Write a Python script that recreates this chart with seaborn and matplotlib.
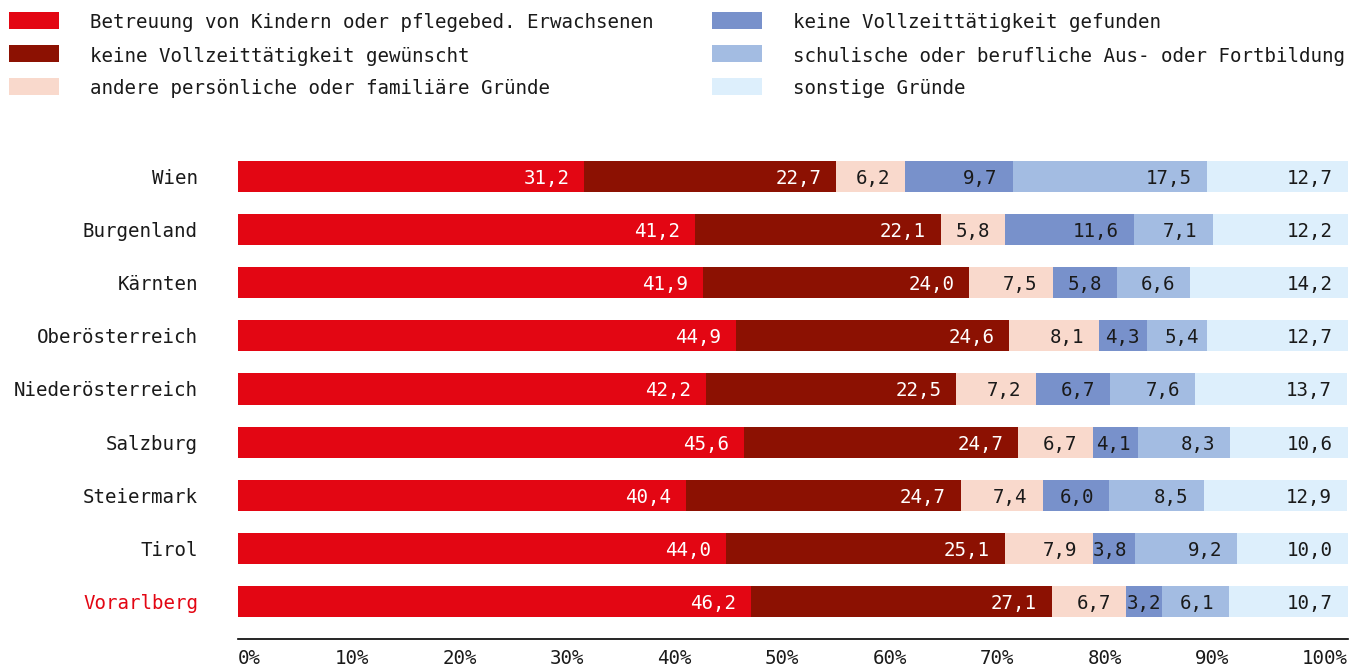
import numpy as np
import pandas as pd
import matplotlib
matplotlib.use("Agg")
import matplotlib.pyplot as plt
import matplotlib.transforms as mtransforms
from matplotlib.patches import Rectangle
import seaborn as sns

# Daten
regions = ["Wien", "Burgenland", "Kärnten", "Oberösterreich", "Niederösterreich",
           "Salzburg", "Steiermark", "Tirol", "Vorarlberg"]

betreuung = [31.2, 41.2, 41.9, 44.9, 42.2, 45.6, 40.4, 44.0, 46.2]
nicht_gewuenscht = [22.7, 22.1, 24.0, 24.6, 22.5, 24.7, 24.7, 25.1, 27.1]
persoenlich = [6.2, 5.8, 7.5, 8.1, 7.2, 6.7, 7.4, 7.9, 6.7]
nicht_gefunden = [9.7, 11.6, 5.8, 4.3, 6.7, 4.1, 6.0, 3.8, 3.2]
ausbildung = [17.5, 7.1, 6.6, 5.4, 7.6, 8.3, 8.5, 9.2, 6.1]
sonstige = [12.7, 12.2, 14.2, 12.7, 13.7, 10.6, 12.9, 10.0, 10.7]

categories = ["Betreuung von Kindern oder pflegebed. Erwachsenen",
              "keine Vollzeittätigkeit gewünscht",
              "andere persönliche oder familiäre Gründe",
              "keine Vollzeittätigkeit gefunden",
              "schulische oder berufliche Aus- oder Fortbildung",
              "sonstige Gründe"]
colors = ["#E30613", "#8C1102", "#F9D9CC", "#7891CB", "#A3BCE2", "#DDEFFC"]
text_colors = ["white", "white", "#1a1a1a", "#1a1a1a", "#1a1a1a", "#1a1a1a"]
xticks = [0, 10, 20, 30, 40, 50, 60, 70, 80, 90, 100]

W, H = 1362, 671
AX_W = 1110  # Breite der Achse in Pixel

sns.set_theme(style="white")
plt.rcParams["font.family"] = ["DejaVu Sans Mono", "DejaVu Sans"]
FS = 13.8
INK = "#1a1a1a"

values = [betreuung, nicht_gewuenscht, persoenlich, nicht_gefunden, ausbildung, sonstige]
df = pd.DataFrame({"region": regions})
cum_cols = []
running = np.zeros(len(regions))
for i, v in enumerate(values):
    running = running + np.array(v)
    df[f"cum{i}"] = running
    cum_cols.append(f"cum{i}")

fig = plt.figure(figsize=(W / 100, H / 100), dpi=100)
ax = fig.add_axes([238 / W, 32 / H, AX_W / W, 499 / H])

# gestapelte Balken: kumulierte Summen von hinten nach vorne überlagern
for i in reversed(range(len(values))):
    sns.barplot(data=df, x=cum_cols[i], y="region", color=colors[i], saturation=1,
                width=0.584, orient="h", errorbar=None, ax=ax, linewidth=0)

# Werte beschriften (bei schmalen Segmenten weniger Abstand zum Rand)
for r in range(len(regions)):
    for i, v in enumerate(values):
        seg_px = v[r] / 100 * AX_W
        pad = 15 if seg_px >= 60 else max(0.5, min(8, seg_px - 35))
        ax.annotate(f"{v[r]:.1f}".replace(".", ","), xy=(df[cum_cols[i]][r], r),
                    xytext=(-pad, 0), textcoords="offset pixels",
                    ha="right", va="center_baseline", fontsize=FS, color=text_colors[i])

ax.set_xlim(0, 100)
ax.set_ylim(8.706, -0.687)
ax.set_xlabel("")
ax.set_ylabel("")
for s in ["top", "right", "left"]:
    ax.spines[s].set_visible(False)
ax.spines["bottom"].set_color("black")
ax.spines["bottom"].set_linewidth(1.2)

ax.set_xticks(xticks)
ax.set_xticklabels([f"{t}%" for t in xticks], fontsize=FS, color=INK)
ax.tick_params(axis="x", length=0, pad=7)
ax.tick_params(axis="y", length=0, pad=28.8)
for lbl in ax.get_yticklabels():
    lbl.set_fontsize(FS)
    lbl.set_color("#E30613" if lbl.get_text() == "Vorarlberg" else INK)

# x-Achsenbeschriftung wie im Original gleichmäßig verteilt
n = len(xticks)
for k, lbl in enumerate(ax.get_xticklabels()):
    if k == 0:
        lbl.set_horizontalalignment("left")
    elif k == n - 1:
        lbl.set_horizontalalignment("right")
    else:
        dx = 6.75 - 3.5 * k
        lbl.set_transform(mtransforms.offset_copy(lbl.get_transform(), fig=fig,
                                                  x=dx, y=0, units="dots"))

# Legende
for i, cat in enumerate(categories):
    col, row = divmod(i, 3)
    x0 = 9 if col == 0 else 712
    tx = 90 if col == 0 else 793
    y0 = 12 + 33 * row
    fig.add_artist(Rectangle((x0 / W, 1 - (y0 + 17) / H), 50 / W, 17 / H,
                             transform=fig.transFigure, color=colors[i], lw=0))
    fig.text(tx / W, 1 - (y0 + 9) / H, cat, fontsize=FS, color=INK,
             ha="left", va="center_baseline")

fig.savefig("out.png", dpi=100)
